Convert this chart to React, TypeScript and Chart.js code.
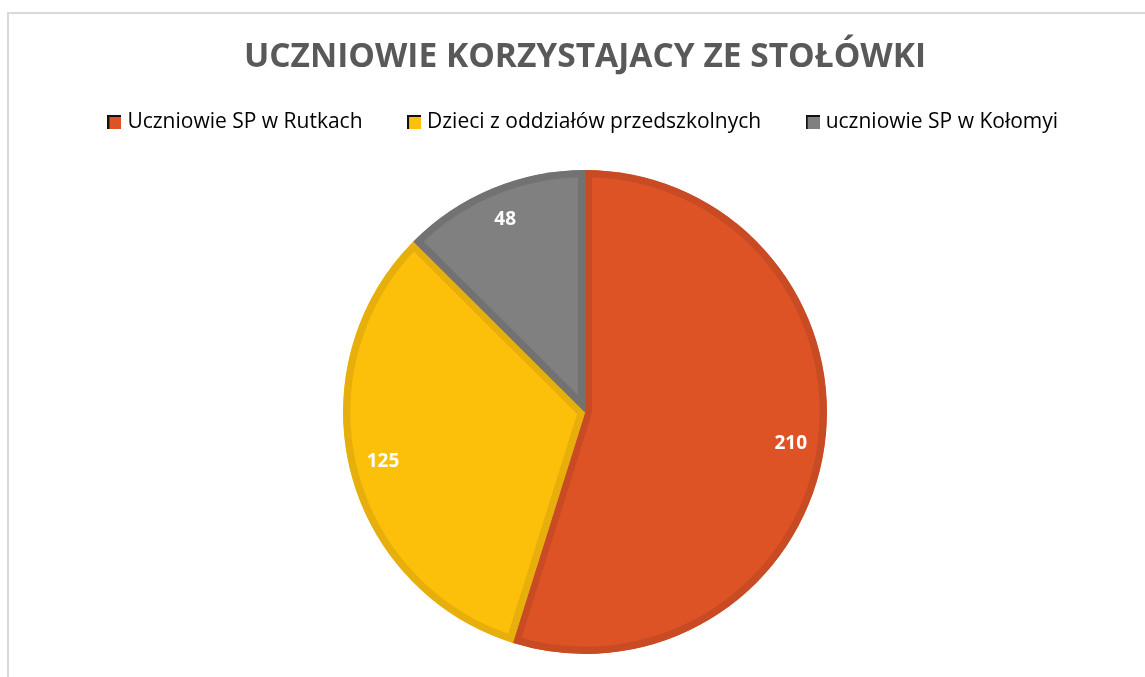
import React, { useEffect, useRef } from "react";
import { Chart, registerables } from "chart.js";

Chart.register(...registerables);

const titleText = "UCZNIOWIE KORZYSTAJACY ZE STOŁÓWKI";
const categories = ["Uczniowie SP w Rutkach", "Dzieci z oddziałów przedszkolnych", "uczniowie SP w Kołomyi"];
const values = [210, 125, 48];
const fillColors = ["#DD5326", "#FCBF0A", "#808080"];
const edgeColors = ["#C84B23", "#E6AF0B", "#727272"];

function swatch(color: string) {
  const c = document.createElement("canvas");
  c.width = 14;
  c.height = 14;
  const g = c.getContext("2d")!;
  g.fillStyle = "#111";
  g.fillRect(0, 0, 14, 14);
  g.fillStyle = color;
  g.fillRect(2, 2, 12, 12);
  return c;
}

const labelPlugin = {
  id: "sliceLabels",
  afterDatasetsDraw(chart: any) {
    const ctx = chart.ctx;
    const meta = chart.getDatasetMeta(0);
    ctx.save();
    ctx.fillStyle = "#FFFFFF";
    ctx.font = "bold 19px 'Open Sans'";
    ctx.textAlign = "center";
    ctx.textBaseline = "middle";
    meta.data.forEach((arc: any, i: number) => {
      const { x, y, startAngle, endAngle, outerRadius } = arc.getProps(["x", "y", "startAngle", "endAngle", "outerRadius"], true);
      const mid = (startAngle + endAngle) / 2;
      const r = outerRadius * 0.86;
      ctx.fillText(String(values[i]), x + Math.cos(mid) * r, y + Math.sin(mid) * r);
    });
    ctx.restore();
  },
};

export default function App() {
  const ref = useRef<HTMLCanvasElement | null>(null);
  useEffect(() => {
    if (!ref.current) return;
    const swatches = fillColors.map(swatch);
    const chart = new Chart(ref.current, {
      type: "pie",
      data: {
        labels: categories,
        datasets: [
          {
            data: values,
            backgroundColor: fillColors,
            borderColor: edgeColors,
            borderWidth: 7,
            borderAlign: "inner",
            radius: 242,
          } as any,
        ],
      },
      options: {
        animation: false,
        responsive: false,
        maintainAspectRatio: false,
        layout: { padding: { left: 25, right: 0, top: 0, bottom: 18.5 } },
        plugins: {
          tooltip: { enabled: false },
          title: {
            display: true,
            text: titleText,
            color: "#595959",
            font: { family: "'Open Sans'", size: 33.5, weight: "bold" },
            padding: { top: 37, bottom: -14.7 },
          },
          legend: {
            display: true,
            position: "top",
            labels: {
              color: "#595959",
              font: { family: "'Open Sans'", size: 21 },
              padding: 49,
              boxWidth: 5,
              usePointStyle: true,
              generateLabels: () =>
                categories.map((c, i) => ({
                  text: c,
                  fillStyle: fillColors[i],
                  strokeStyle: fillColors[i],
                  lineWidth: 0,
                  pointStyle: swatches[i],
                  hidden: false,
                  index: i,
                  datasetIndex: 0,
                })) as any,
            },
          },
        },
      },
      plugins: [labelPlugin],
    });
    return () => chart.destroy();
  }, []);

  return (
    <div style={{ position: "fixed", left: 0, top: 0, width: 1145, height: 677, overflow: "hidden", background: "#fff" }}>
      <div
        style={{
          position: "absolute",
          left: 7,
          top: 12,
          width: 1200,
          height: 800,
          border: "2px solid #D9D9D9",
          boxSizing: "border-box",
        }}
      />
      <canvas ref={ref} width={1145} height={700} style={{ position: "absolute", left: 0, top: 0 }} />
    </div>
  );
}
